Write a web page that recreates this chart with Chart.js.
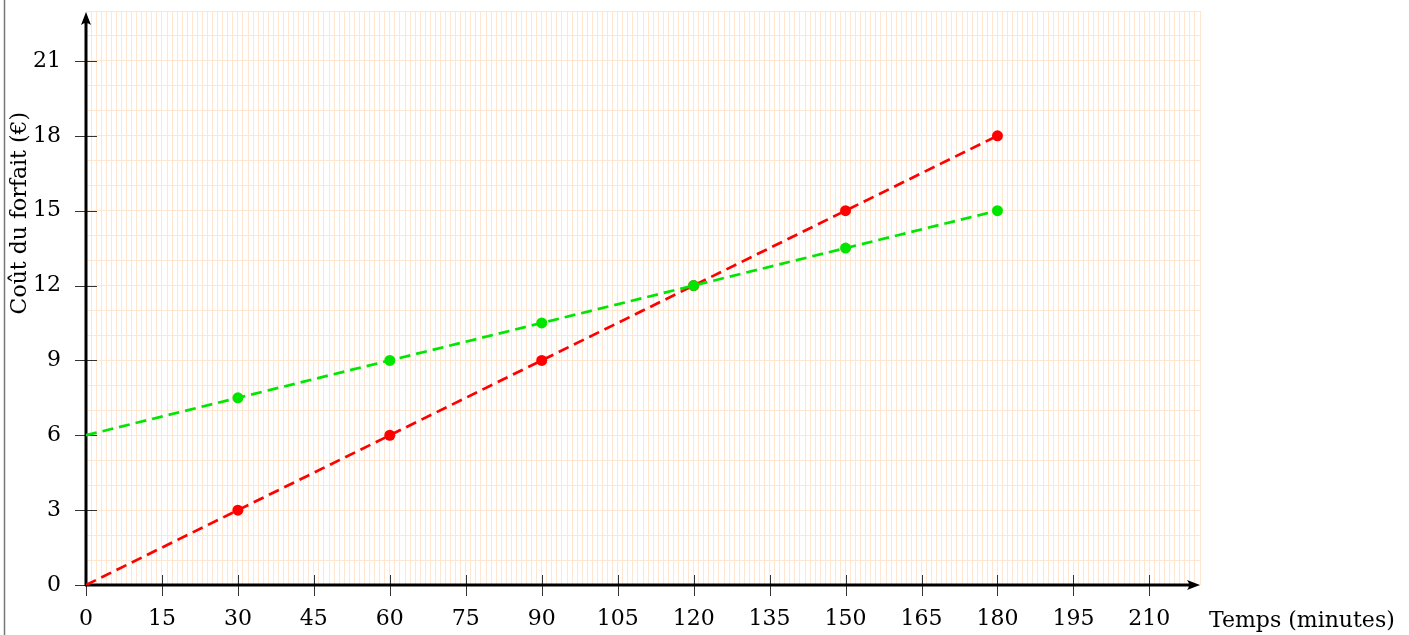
<!DOCTYPE html>
<html>
<head>
<meta charset="utf-8">
<script src="https://cdn.jsdelivr.net/npm/chart.js@4"></script>
<style>
  html, body { margin: 0; padding: 0; background: #fff; }
  #wrap { width: 1409px; height: 635px; }
</style>
</head>
<body>
<div id="wrap"><canvas id="cout"></canvas></div>
<script>
// données du graphique
const minutes = [0, 30, 60, 90, 120, 150, 180];
const forfaitRouge = [0, 3, 6, 9, 12, 15, 18];
const forfaitVert = [6, 7.5, 9, 10.5, 12, 13.5, 15];
const xTicks = [0, 15, 30, 45, 60, 75, 90, 105, 120, 135, 150, 165, 180, 195, 210];
const yTicks = [0, 3, 6, 9, 12, 15, 18, 21];
const xTitre = 'Temps (minutes)';
const yTitre = 'Coût du forfait (€)';

const police = '22px "DejaVu Serif", serif';
const grille = 'rgb(255, 230, 208)';

const toPoints = (vals) => minutes.map((m, i) => ({ x: m, y: vals[i] }));
// pas de point visible en x = 0
const rayons = minutes.map(m => m === 0 ? 0 : 5.5);

// axes avec flèches, graduations et titres
const axesPlugin = {
  id: 'axes',
  beforeDraw(chart) {
    const c = chart.ctx;
    c.save();
    c.strokeStyle = '#777';
    c.lineWidth = 1.5;
    c.beginPath();
    c.moveTo(4.5, 0);
    c.lineTo(4.5, chart.height);
    c.stroke();
    c.restore();
  },
  beforeDatasetsDraw(chart) {
    const c = chart.ctx;
    const x = chart.scales.x, y = chart.scales.y;
    const x0 = x.getPixelForValue(0), y0 = y.getPixelForValue(0);
    const xEnd = x.right, yEnd = y.top + 1;
    c.save();
    // graduations
    c.strokeStyle = '#333';
    c.lineWidth = 1;
    c.beginPath();
    xTicks.forEach(v => {
      const px = Math.round(x.getPixelForValue(v)) + 0.5;
      c.moveTo(px, y0 - 10);
      c.lineTo(px, y0 + 11);
    });
    yTicks.forEach(v => {
      const py = Math.round(y.getPixelForValue(v)) + 0.5;
      c.moveTo(x0 - 11, py);
      c.lineTo(x0 + 11, py);
    });
    c.stroke();
    // axes
    c.strokeStyle = '#000';
    c.fillStyle = '#000';
    c.lineWidth = 3;
    c.beginPath();
    c.moveTo(x0 - 1, y0);
    c.lineTo(xEnd - 8, y0);
    c.moveTo(x0, y0 + 1);
    c.lineTo(x0, yEnd + 8);
    c.stroke();
    // flèches
    c.beginPath();
    c.moveTo(xEnd, y0);
    c.lineTo(xEnd - 13, y0 - 5);
    c.quadraticCurveTo(xEnd - 9, y0, xEnd - 13, y0 + 5);
    c.closePath();
    c.fill();
    c.beginPath();
    c.moveTo(x0, yEnd);
    c.lineTo(x0 - 5, yEnd + 13);
    c.quadraticCurveTo(x0, yEnd + 9, x0 + 5, yEnd + 13);
    c.closePath();
    c.fill();
    c.restore();
  },
  afterDraw(chart) {
    const c = chart.ctx;
    const y = chart.scales.y;
    c.save();
    c.font = police;
    c.fillStyle = '#000';
    c.textBaseline = 'middle';
    c.textAlign = 'left';
    c.fillText(xTitre, 1209, 621);
    c.translate(20, y.getPixelForValue(14.9));
    c.rotate(-Math.PI / 2);
    c.textAlign = 'center';
    c.fillText(yTitre, 0, 0);
    c.restore();
  }
};

new Chart(document.getElementById('cout'), {
  type: 'line',
  data: {
    datasets: [
      {
        data: toPoints(forfaitVert),
        borderColor: '#00e600',
        backgroundColor: '#00e600',
        borderWidth: 2.7,
        borderDash: [11, 6],
        pointRadius: rayons,
        pointBorderWidth: 0,
        pointHoverRadius: rayons,
        fill: false,
        tension: 0
      },
      {
        data: toPoints(forfaitRouge),
        borderColor: '#ff0000',
        backgroundColor: '#ff0000',
        borderWidth: 2.7,
        borderDash: [11, 6],
        pointRadius: rayons,
        pointBorderWidth: 0,
        pointHoverRadius: rayons,
        fill: false,
        tension: 0
      }
    ]
  },
  options: {
    responsive: true,
    maintainAspectRatio: false,
    animation: false,
    layout: { padding: { left: 0, right: 209, top: 11, bottom: 0 } },
    plugins: {
      legend: { display: false },
      tooltip: { enabled: false }
    },
    scales: {
      x: {
        type: 'linear',
        min: 0,
        max: 220,
        afterFit(scale) { scale.height = 50; scale.paddingLeft = 0; scale.paddingRight = 0; },
        border: { display: false },
        grid: { color: grille, lineWidth: 1, drawTicks: false },
        ticks: {
          stepSize: 1,
          autoSkip: false,
          maxRotation: 0,
          minRotation: 0,
          padding: 21,
          color: '#000',
          font: { family: '"DejaVu Serif", serif', size: 22 },
          callback: (v) => xTicks.includes(v) ? String(v) : ''
        }
      },
      y: {
        type: 'linear',
        min: 0,
        max: 23,
        afterFit(scale) { scale.width = 86; scale.paddingTop = 0; scale.paddingBottom = 0; },
        border: { display: false },
        grid: { color: grille, lineWidth: 1, drawTicks: false },
        ticks: {
          stepSize: 1,
          autoSkip: false,
          padding: 25,
          color: '#000',
          font: { family: '"DejaVu Serif", serif', size: 22 },
          callback: (v) => yTicks.includes(v) ? String(v) : ''
        }
      }
    }
  },
  plugins: [axesPlugin]
});
</script>
</body>
</html>
